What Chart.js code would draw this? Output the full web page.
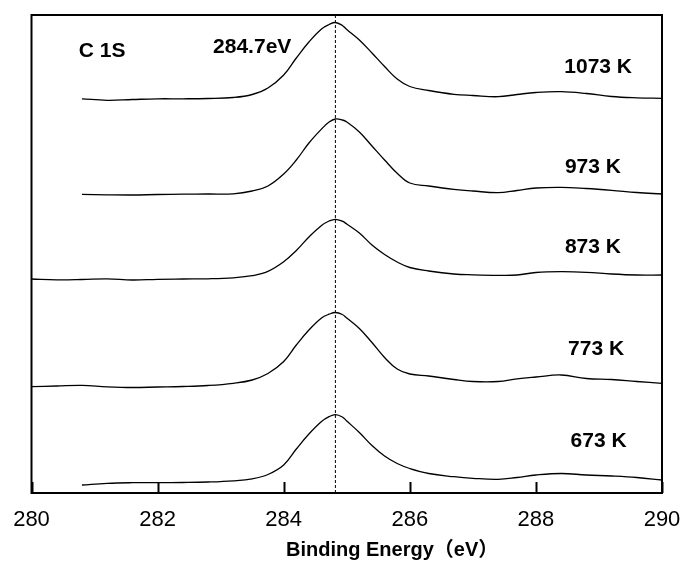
<!DOCTYPE html>
<html>
<head>
<meta charset="utf-8">
<script src="https://cdn.jsdelivr.net/npm/chart.js@4.4.1/dist/chart.umd.min.js"></script>
<style>
  html, body { margin: 0; padding: 0; background: #fff; }
  canvas { display: block; }
</style>
</head>
<body>
<canvas id="xps" width="686" height="565"></canvas>
<script>
// binding energy grid (eV)
const energy = [280.0, 280.4, 280.8, 281.2, 281.6, 282.0, 282.4, 282.8, 283.2, 283.5, 283.75,
  284.0, 284.2, 284.4, 284.6, 284.72, 284.82, 284.93, 285.0, 285.2, 285.4, 285.6, 285.8, 286.0, 286.3,
  286.7, 287.0, 287.4, 287.7, 288.0, 288.4, 288.8, 289.2, 289.6, 290.0];

// intensity (a.u., curves already offset), null = not measured
const k1073 = [null, null, 394.2, 392.7, 393.5, 394.2, 394.2, 394.5, 395.5, 398.5, 405,
  418, 435, 451, 464, 468.5, 470.5, 467.5, 463.5, 453, 440, 426.5, 414, 406.5, 402.5,
  398.7, 397.5, 396.3, 398.5, 400.5, 401.3, 399.5, 396.5, 395.2, 394.7];
const k973 = [null, null, 298.7, 298.2, 298, 298.5, 298.8, 299, 299.2, 302, 307,
  319, 333, 350, 364, 371, 374, 373, 371, 361, 347, 333, 319.7, 310, 307,
  303.7, 302, 300.3, 302.5, 305, 305.7, 304.5, 302.7, 300.5, 299];
const k873 = [214, 213.2, 213.5, 214.2, 213, 213.7, 214, 214.2, 215.2, 217.3, 221.7,
  231.3, 242.5, 256, 267.5, 272, 273.7, 271.8, 269, 260, 248, 238.5, 231, 225.5, 222,
  219, 218.2, 217.7, 218, 220.5, 221.3, 220.7, 219, 218, 218];
const k773 = [106.3, 107, 107.7, 106.2, 105.5, 106, 106.5, 107.5, 109.7, 113, 119.5,
  131.5, 148, 163, 175, 178.8, 180.5, 178.5, 175, 164.5, 150.5, 135.5, 124, 119, 117,
  113.5, 111.5, 111.5, 114.2, 116, 118, 114.5, 113.5, 111.5, 109.7];
const k673 = [null, null, 8, 9.7, 10.3, 10.3, 10.5, 11, 12.2, 14.2, 18.5,
  28, 44, 59, 71.5, 76.3, 78.3, 76, 72, 60.5, 47.5, 37, 29.5, 24.5, 19.5,
  16.3, 14.7, 13.7, 15.5, 18, 19.5, 18, 17, 15.5, 13];

const seriesNames = ['1073 K', '973 K', '873 K', '773 K', '673 K'];
const seriesData = [k1073, k973, k873, k773, k673];
const xTicks = [280, 282, 284, 286, 288, 290];
const peakEnergy = 284.82;

const FONT = '"Liberation Sans", Arial, "Noto Sans CJK SC", sans-serif';

const toPoints = (ys) => energy
  .map((x, i) => ({ x: x, y: ys[i] }))
  .filter(p => p.y !== null);

const curveSets = seriesData.map((ys, i) => ({
  label: seriesNames[i],
  data: toPoints(ys),
  borderColor: '#000',
  borderWidth: 1.3,
  pointRadius: 0,
  fill: false,
  tension: 0.4
}));

const peakLine = {
  label: 'peak',
  data: [{ x: peakEnergy, y: 0 }, { x: peakEnergy, y: 478 }],
  borderColor: '#000',
  borderWidth: 1,
  borderDash: [3, 2],
  pointRadius: 0
};

// frame, inward ticks and text labels
const decor = {
  id: 'decor',
  afterDatasetsDraw(chart) {
    const { ctx, chartArea: a, scales } = chart;
    const xs = scales.x, ys = scales.y;
    ctx.save();
    ctx.strokeStyle = '#000';
    ctx.lineWidth = 2;
    ctx.strokeRect(a.left, a.top, a.right - a.left, a.bottom - a.top);
    xTicks.forEach(v => {
      const px = Math.round(xs.getPixelForValue(v)) + 0.5;
      ctx.beginPath();
      ctx.moveTo(px, a.bottom);
      ctx.lineTo(px, a.bottom - 11);
      ctx.stroke();
    });

    ctx.fillStyle = '#000';
    ctx.textAlign = 'left';
    ctx.textBaseline = 'alphabetic';
    ctx.font = 'bold 21px ' + FONT;
    const labelPos = [[288.45, 420.3], [288.46, 320.3], [288.46, 240.3], [288.51, 137.7], [288.55, 46.3]];
    seriesNames.forEach((name, i) => {
      ctx.fillText(name, xs.getPixelForValue(labelPos[i][0]), ys.getPixelForValue(labelPos[i][1]));
    });
    ctx.fillText('C 1S', xs.getPixelForValue(280.75), ys.getPixelForValue(436.3));
    ctx.fillText('284.7eV', xs.getPixelForValue(282.88), ys.getPixelForValue(440.3));

    ctx.font = 'bold 20px ' + FONT;
    ctx.fillText('Binding Energy（eV）', 286, 556);
    ctx.restore();
  }
};

new Chart(document.getElementById('xps'), {
  type: 'line',
  data: { datasets: [...curveSets, peakLine] },
  options: {
    responsive: false,
    animation: false,
    devicePixelRatio: 1,
    layout: { padding: { top: 15, left: 31.5, right: 24, bottom: 0 } },
    plugins: { legend: { display: false }, tooltip: { enabled: false } },
    scales: {
      x: {
        type: 'linear',
        min: 280,
        max: 290,
        afterBuildTicks: (scale) => { scale.ticks = xTicks.map(v => ({ value: v })); },
        afterFit: (scale) => { scale.height = 72; },
        grid: { display: false, drawTicks: true, tickLength: 10 },
        border: { display: false },
        ticks: { color: '#000', padding: 4, font: { family: FONT, size: 22 } }
      },
      y: { display: false, min: 0, max: 478 }
    }
  },
  plugins: [decor]
});
</script>
</body>
</html>
